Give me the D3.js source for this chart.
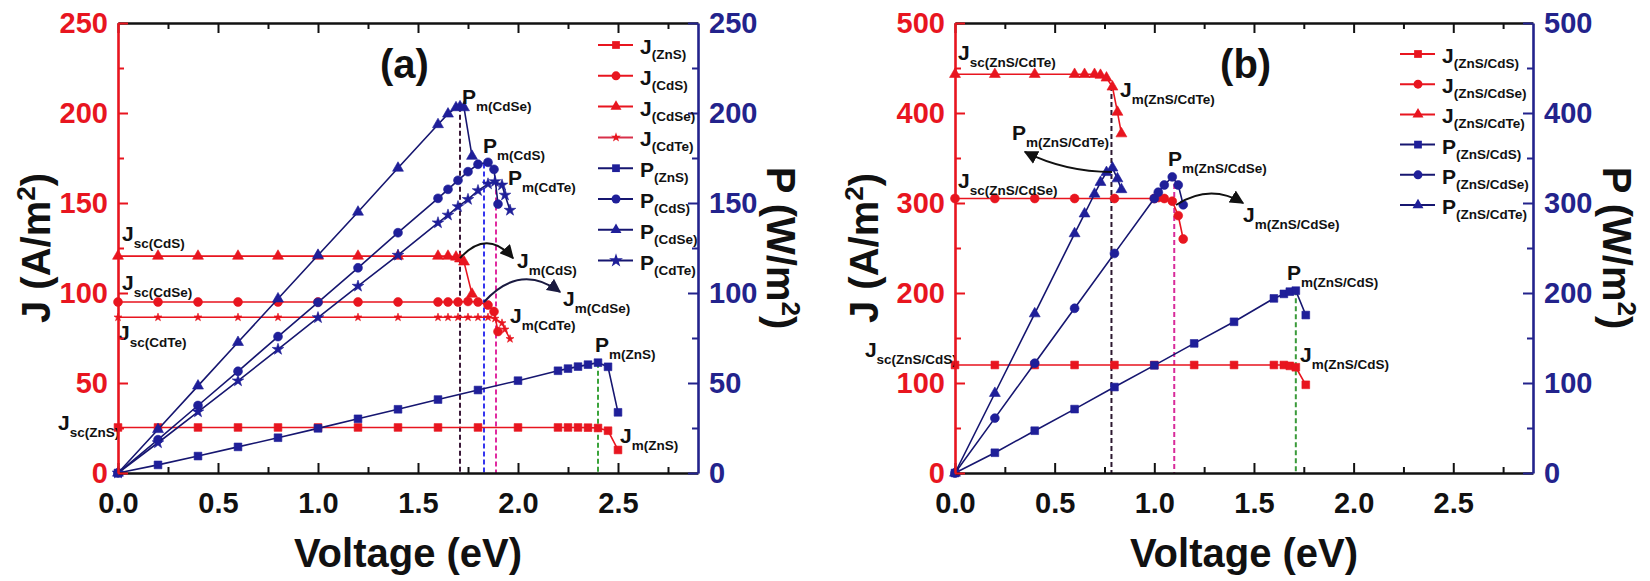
<!DOCTYPE html>
<html><head><meta charset="utf-8">
<script src="https://cdn.jsdelivr.net/npm/d3@7"></script>
<style>
body{margin:0;background:#fff;}
svg{display:block;font-family:"Liberation Sans",Arial,sans-serif;font-weight:bold;}
</style></head><body>
<svg id="chart" width="1650" height="581"></svg>
<script>
// ---------------- DATA ----------------
const xTicks = [0, 0.5, 1.0, 1.5, 2.0, 2.5];
const xMinor = [0.25, 0.75, 1.25, 1.75, 2.25, 2.75];
const aYTicks = [0, 50, 100, 150, 200, 250];
const aYMinor = [25, 75, 125, 175, 225];
const bYTicks = [0, 100, 200, 300, 400, 500];
const bYMinor = [50, 150, 250, 350, 450];

// Panel (a)
const aV_ZnS  = [0,0.2,0.4,0.6,0.8,1.0,1.2,1.4,1.6,1.8,2.0,2.2,2.25,2.3,2.35,2.4,2.45,2.5];
const aJ_ZnS  = [25.3,25.3,25.3,25.3,25.3,25.3,25.3,25.3,25.3,25.3,25.3,25.3,25.3,25.3,25.2,25.0,23.5,12.8];
const aP_ZnS  = [0,4.5,9.4,14.5,19.6,24.8,30.1,35.4,40.8,46.1,51.3,56.8,58,59.1,60.2,61.3,59,33.7];

const aV_CdS  = [0,0.2,0.4,0.6,0.8,1.0,1.2,1.4,1.6,1.65,1.7,1.75,1.8,1.85,1.88,1.9];
const aJ_CdS  = [95,95,95,95,95,95,95,95,95,95,95,95.3,95,93.3,89.7,78.6];
const aP_CdS  = [0,18.5,37.5,56.5,75.8,94.8,114,133.5,152.6,157.6,162.6,167.4,171.5,172.6,168.7,149.4];

const aV_CdSe = [0,0.2,0.4,0.6,0.8,1.0,1.2,1.4,1.6,1.65,1.69,1.71,1.73,1.77];
const aJ_CdSe = [120.5,120.5,120.5,120.5,120.5,120.5,120.5,120.5,120.5,120.5,120,119,117.3,99.4];
const aP_CdSe = [0,24.2,48.4,72.6,96.8,121,145,169.4,193.6,199.5,203,203.5,203,176];

const aV_CdTe = [0,0.2,0.4,0.6,0.8,1.0,1.2,1.4,1.6,1.65,1.7,1.75,1.8,1.85,1.885,1.92,1.935,1.96];
const aJ_CdTe = [86.5,86.5,86.5,86.5,86.5,86.5,86.5,86.5,86.5,86.5,86.5,86.5,86.5,86.5,85.8,83.3,79.8,74.5];
const aP_CdTe = [0,16.8,34,51.2,68.7,86.3,103.8,121,139,143.3,148,152,156.9,160.6,161.9,160,154.4,146];

// Panel (b)
const bV_CdS  = [0,0.2,0.4,0.6,0.8,1.0,1.2,1.4,1.6,1.65,1.68,1.71,1.76];
const bJ_CdS  = [120,120,120,120,120,120,120,120,120,120,119,117.5,98];
const bP_CdS  = [0,22.5,47,71,95.5,119.6,144,168,194,199,201.5,202.6,175.5];

const bV_CdSe = [0,0.2,0.4,0.6,0.8,1.0,1.02,1.05,1.09,1.12,1.145];
const bJ_CdSe = [305,305,305,305,305,305,306,305,302,286,260];
const bP_CdSe = [0,61,122,183,244,305,312,320,329,320,298];

const bV_CdTe = [0,0.2,0.4,0.6,0.65,0.7,0.73,0.76,0.79,0.815,0.835];
const bJ_CdTe = [443,443,443,443,443,443,442,439,429,401,377];
const bP_CdTe = [0,88.6,177,266,288,310,323,334,339,327,315];

// maximum-power markers (voltage, top value)
const aDropV = [1.71, 1.83, 1.89, 2.40];
const aDropTop = [203.5, 172, 162, 61.3];
const bDropV = [0.785, 1.10, 1.71];
const bDropTop = [430, 330, 203];

// ---------------- STYLE ----------------
const RED = "#e8151f";
const NAVY = "#1f1f99";
const NAVYLINE = "#161670";
const RAXIS = "#23238c";

const svg = d3.select("#chart");
const defs = svg.append("defs");
function arrowMarker(id, color){
  defs.append("marker").attr("id", id).attr("viewBox","0 0 10 10").attr("refX",9).attr("refY",5)
    .attr("markerWidth",7).attr("markerHeight",7).attr("orient","auto")
    .append("path").attr("d","M0,0 L10,5 L0,10 Z").attr("fill",color);
}
arrowMarker("arrK", "#111");
arrowMarker("arrN", "#1a1a40");

const SYM = {square: d3.symbolSquare, circle: d3.symbolCircle, triangle: d3.symbolTriangle, star: d3.symbolStar};
const SIZE = {square: 60, circle: 62, triangle: 52, star: 42};

function zip(v, vals){ return v.map((d,i)=>({v:d, y:vals[i]})); }

function subLabel(g, px, py, main, sub, mainSize, subSize, dy){
  const t = g.append("text").attr("x",px).attr("y",py).attr("font-size",mainSize).attr("fill","#111").text(main);
  t.append("tspan").attr("font-size",subSize).attr("dy",dy).text(sub);
  return t;
}

function drawPanel(p){
  const g = svg.append("g");
  const x = d3.scaleLinear().domain([0, 2.9]).range([p.left, p.right]);
  const y = d3.scaleLinear().domain([0, p.yMax]).range([473, 23]);

  // dashed drop lines
  p.drops.forEach((d)=>{
    g.append("line").attr("x1",x(d.v)).attr("x2",x(d.v)).attr("y1",y(d.top)).attr("y2",y(0))
      .attr("stroke",d.color).attr("stroke-width",2).attr("stroke-dasharray","5,3");
  });

  const line = d3.line().x(d=>x(d.v)).y(d=>y(d.y));
  p.series.forEach(s=>{
    const data = zip(s.v, s.vals);
    g.append("path").attr("d", line(data)).attr("fill","none")
      .attr("stroke", s.line).attr("stroke-width",1.6);
    const sym = d3.symbol().type(SYM[s.shape]).size(s.size || SIZE[s.shape]);
    g.selectAll(null).data(data).join("path")
      .attr("transform", d=>`translate(${x(d.v)},${y(d.y)})`)
      .attr("d", sym()).attr("fill", s.fill).attr("stroke", s.fill).attr("stroke-width",0.6);
  });

  // arrows
  p.arrows.forEach(a=>{
    g.append("path")
      .attr("d", `M${x(a.p0[0])},${y(a.p0[1])} Q${x(a.c[0])},${y(a.c[1])} ${x(a.p1[0])},${y(a.p1[1])}`)
      .attr("fill","none").attr("stroke",a.color).attr("stroke-width",2)
      .attr("marker-end", `url(#${a.marker})`);
  });

  // annotation labels
  p.labels.forEach(l=>{
    subLabel(g, x(l.v), y(l.y), l.main, l.sub, 21, 13.5, 7);
  });

  // panel tag
  g.append("text").attr("x", x(p.tag.v)).attr("y", y(p.tag.y)).attr("font-size",40).attr("fill","#111").text(p.tag.text);

  // axes
  function style(sel, color, fs){
    sel.attr("font-size", fs).attr("font-family", null);
    sel.select(".domain").attr("stroke", color).attr("stroke-width", 2.6);
    sel.selectAll(".tick line").attr("stroke", color).attr("stroke-width", 2);
    sel.selectAll(".tick text").attr("fill", color).style("font-family",'"Liberation Sans",Arial,sans-serif').style("font-weight","bold");
  }
  const fmt = d3.format(".1f");
  // minor ticks
  g.append("g").attr("transform",`translate(0,${y(0)})`)
    .call(d3.axisBottom(x).tickValues(xMinor).tickSize(-6).tickFormat(""))
    .call(s=>{s.select(".domain").remove(); s.selectAll(".tick line").attr("stroke","#111").attr("stroke-width",2);});
  g.append("g").attr("transform",`translate(0,${y(p.yMax)})`)
    .call(d3.axisTop(x).tickValues(xMinor).tickSize(-6).tickFormat(""))
    .call(s=>{s.select(".domain").remove(); s.selectAll(".tick line").attr("stroke","#111").attr("stroke-width",2);});
  g.append("g").attr("transform",`translate(${x(0)},0)`)
    .call(d3.axisLeft(y).tickValues(p.yMinor).tickSize(-6).tickFormat(""))
    .call(s=>{s.select(".domain").remove(); s.selectAll(".tick line").attr("stroke",RED).attr("stroke-width",2);});
  g.append("g").attr("transform",`translate(${x(2.9)},0)`)
    .call(d3.axisRight(y).tickValues(p.yMinor).tickSize(-6).tickFormat(""))
    .call(s=>{s.select(".domain").remove(); s.selectAll(".tick line").attr("stroke",RAXIS).attr("stroke-width",2);});

  g.append("g").attr("transform",`translate(0,${y(p.yMax)})`)
    .call(d3.axisTop(x).tickValues(xTicks).tickSize(-10).tickSizeOuter(0).tickFormat(""))
    .call(s=>style(s,"#111",28));
  g.append("g").attr("transform",`translate(0,${y(0)})`)
    .call(d3.axisBottom(x).tickValues(xTicks).tickSize(-10).tickSizeOuter(0).tickPadding(19).tickFormat(fmt))
    .call(s=>style(s,"#111",29));
  g.append("g").attr("transform",`translate(${x(0)},0)`)
    .call(d3.axisLeft(y).tickValues(p.yTicks).tickSize(-10).tickSizeOuter(0).tickPadding(10))
    .call(s=>style(s,RED,29));
  g.append("g").attr("transform",`translate(${x(2.9)},0)`)
    .call(d3.axisRight(y).tickValues(p.yTicks).tickSize(-10).tickSizeOuter(0).tickPadding(11))
    .call(s=>style(s,RAXIS,29));

  // axis titles
  const mid = (p.left + p.right)/2;
  g.append("text").attr("x", mid).attr("y", 567).attr("text-anchor","middle").attr("font-size",40).attr("fill","#111").text("Voltage (eV)");
  const jt = g.append("text").attr("transform",`translate(${p.jTitleX},248) rotate(-90)`).attr("text-anchor","middle").attr("font-size",40).attr("fill","#111");
  jt.append("tspan").text("J (A/m");
  jt.append("tspan").attr("font-size",26).attr("dy",-15).text("2");
  jt.append("tspan").attr("dy",15).text(")");
  const pt = g.append("text").attr("transform",`translate(${p.pTitleX},248) rotate(90)`).attr("text-anchor","middle").attr("font-size",40).attr("fill","#111");
  pt.append("tspan").text("P (W/m");
  pt.append("tspan").attr("font-size",26).attr("dy",-15).text("2");
  pt.append("tspan").attr("dy",15).text(")");

  // legend
  p.legend.forEach((it,i)=>{
    const ry = p.legY + i*p.legStep;
    g.append("line").attr("x1",p.legX).attr("x2",p.legX+35).attr("y1",ry).attr("y2",ry).attr("stroke",it.line).attr("stroke-width",2);
    const sym = d3.symbol().type(SYM[it.shape]).size((it.size||SIZE[it.shape]));
    g.append("path").attr("transform",`translate(${p.legX+18},${ry})`).attr("d",sym()).attr("fill",it.fill);
    subLabel(g, p.legX+42, ry+9, it.main, it.sub, 21, 13.5, 5);
  });
}

// ---------------- PANEL (a) ----------------
drawPanel({
  left:118, right:698, yMax:250, yTicks:aYTicks, yMinor:aYMinor, jTitleX:50, pTitleX:767,
  tag:{v:1.31, y:219.4, text:"(a)"},
  drops:[
    {v:aDropV[0], top:aDropTop[0], color:"#3a1838"},
    {v:aDropV[1], top:aDropTop[1], color:"#3535ee"},
    {v:aDropV[2], top:aDropTop[2], color:"#e02aa0"},
    {v:aDropV[3], top:aDropTop[3], color:"#3aa33a"}
  ],
  series:[
    {v:aV_ZnS,  vals:aJ_ZnS,  shape:"square",   fill:RED,  line:RED},
    {v:aV_CdS,  vals:aJ_CdS,  shape:"circle",   fill:RED,  line:RED},
    {v:aV_CdSe, vals:aJ_CdSe, shape:"triangle", fill:RED,  line:RED},
    {v:aV_CdTe, vals:aJ_CdTe, shape:"star",     fill:RED,  line:RED, size:20},
    {v:aV_ZnS,  vals:aP_ZnS,  shape:"square",   fill:NAVY, line:NAVYLINE},
    {v:aV_CdS,  vals:aP_CdS,  shape:"circle",   fill:NAVY, line:NAVYLINE},
    {v:aV_CdSe, vals:aP_CdSe, shape:"triangle", fill:NAVY, line:NAVYLINE},
    {v:aV_CdTe, vals:aP_CdTe, shape:"star",     fill:NAVY, line:NAVYLINE}
  ],
  arrows:[
    {p0:[1.71,119.4], c:[1.845,136], p1:[1.975,119.4], color:"#111", marker:"arrK"},
    {p0:[1.83,95], c:[2.01,117], p1:[2.21,100.6], color:"#1a1a40", marker:"arrN"}
  ],
  labels:[
    {v:0.02, y:128.9, main:"J", sub:"sc(CdS)"},
    {v:0.02, y:101.7, main:"J", sub:"sc(CdSe)"},
    {v:0.0,  y:73.9,  main:"J", sub:"sc(CdTe)"},
    {v:-0.30,y:23.9,  main:"J", sub:"sc(ZnS)"},
    {v:1.72, y:205,   main:"P", sub:"m(CdSe)"},
    {v:1.825,y:177.8, main:"P", sub:"m(CdS)"},
    {v:1.95, y:160,   main:"P", sub:"m(CdTe)"},
    {v:1.995,y:113.9, main:"J", sub:"m(CdS)"},
    {v:2.225,y:92.8,  main:"J", sub:"m(CdSe)"},
    {v:1.96, y:83.3,  main:"J", sub:"m(CdTe)"},
    {v:2.385,y:67.2,  main:"P", sub:"m(ZnS)"},
    {v:2.51, y:16.7,  main:"J", sub:"m(ZnS)"}
  ],
  legX:598, legY:45, legStep:30.8,
  legend:[
    {main:"J", sub:"(ZnS)",  shape:"square",   fill:RED, line:RED},
    {main:"J", sub:"(CdS)",  shape:"circle",   fill:RED, line:RED},
    {main:"J", sub:"(CdSe)", shape:"triangle", fill:RED, line:RED},
    {main:"J", sub:"(CdTe)", shape:"star",     fill:RED, line:"#d8304a", size:30},
    {main:"P", sub:"(ZnS)",  shape:"square",   fill:NAVY, line:NAVYLINE},
    {main:"P", sub:"(CdS)",  shape:"circle",   fill:NAVY, line:NAVYLINE},
    {main:"P", sub:"(CdSe)", shape:"triangle", fill:NAVY, line:NAVYLINE},
    {main:"P", sub:"(CdTe)", shape:"star",     fill:NAVY, line:NAVYLINE, size:60}
  ]
});

// ---------------- PANEL (b) ----------------
drawPanel({
  left:955, right:1533, yMax:500, yTicks:bYTicks, yMinor:bYMinor, jTitleX:878, pTitleX:1603,
  tag:{v:1.33, y:438.9, text:"(b)"},
  drops:[
    {v:bDropV[0], top:bDropTop[0], color:"#2c1830"},
    {v:bDropV[1], top:bDropTop[1], color:"#d82a9a"},
    {v:bDropV[2], top:bDropTop[2], color:"#3a9a3a"}
  ],
  series:[
    {v:bV_CdS,  vals:bJ_CdS,  shape:"square",   fill:RED,  line:RED},
    {v:bV_CdSe, vals:bJ_CdSe, shape:"circle",   fill:RED,  line:RED},
    {v:bV_CdTe, vals:bJ_CdTe, shape:"triangle", fill:RED,  line:RED},
    {v:bV_CdS,  vals:bP_CdS,  shape:"square",   fill:NAVY, line:NAVYLINE},
    {v:bV_CdSe, vals:bP_CdSe, shape:"circle",   fill:NAVY, line:NAVYLINE},
    {v:bV_CdTe, vals:bP_CdTe, shape:"triangle", fill:NAVY, line:NAVYLINE}
  ],
  arrows:[
    {p0:[0.788,334.4], c:[0.552,334.4], p1:[0.351,356.7], color:"#111", marker:"arrK"},
    {p0:[1.109,297.8], c:[1.28,322], p1:[1.445,300], color:"#111", marker:"arrK"}
  ],
  labels:[
    {v:0.015, y:458.9, main:"J", sub:"sc(ZnS/CdTe)"},
    {v:0.828, y:417.8, main:"J", sub:"m(ZnS/CdTe)"},
    {v:0.286, y:370,   main:"P", sub:"m(ZnS/CdTe)"},
    {v:0.015, y:316.7, main:"J", sub:"sc(ZnS/CdSe)"},
    {v:1.069, y:341.1, main:"P", sub:"m(ZnS/CdSe)"},
    {v:1.445, y:278.9, main:"J", sub:"m(ZnS/CdSe)"},
    {v:1.666, y:214.4, main:"P", sub:"m(ZnS/CdS)"},
    {v:1.731, y:123.3, main:"J", sub:"m(ZnS/CdS)"},
    {v:-0.452,y:128.9, main:"J", sub:"sc(ZnS/CdS)"}
  ],
  legX:1400, legY:54, legStep:30.2,
  legend:[
    {main:"J", sub:"(ZnS/CdS)",  shape:"square",   fill:RED, line:RED},
    {main:"J", sub:"(ZnS/CdSe)", shape:"circle",   fill:RED, line:RED},
    {main:"J", sub:"(ZnS/CdTe)", shape:"triangle", fill:RED, line:RED},
    {main:"P", sub:"(ZnS/CdS)",  shape:"square",   fill:NAVY, line:NAVYLINE},
    {main:"P", sub:"(ZnS/CdSe)", shape:"circle",   fill:NAVY, line:NAVYLINE},
    {main:"P", sub:"(ZnS/CdTe)", shape:"triangle", fill:NAVY, line:NAVYLINE}
  ]
});
</script>
</body></html>
